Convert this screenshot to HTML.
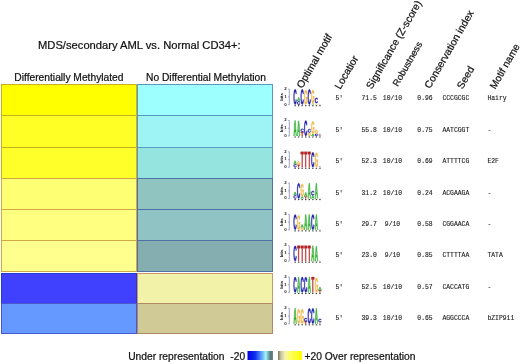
<!DOCTYPE html><html><head><meta charset="utf-8"><style>html,body{margin:0;padding:0;background:#fff;width:520px;height:364px;overflow:hidden}svg{display:block;will-change:transform}text{font-family:"Liberation Sans",sans-serif}.t{stroke:#111;stroke-width:0.22}.m{font-family:"Liberation Mono",monospace}</style></head><body>
<svg width="520" height="364" viewBox="0 0 520 364">
<defs>
<path id="gA" d="M78.7 100 69.7 74.4H30.6L21.5 100H0L37.4 0H62.7L100 100ZM50.1 15.4 49.6 17Q48.9 19.5 47.9 22.8Q46.9 26 35.4 58.7H64.8L54.7 30L51.6 20.3Z" vector-effect="non-scaling-stroke"/>
<path id="gC" d="M53.1 84Q73 84 80.8 65.5L100 72.2Q93.8 86.3 81.8 93.1Q69.8 100 53.1 100Q27.7 100 13.9 86.7Q0 73.4 0 49.6Q0 25.7 13.4 12.8Q26.7 0 52.1 0Q70.6 0 82.3 6.9Q94 13.7 98.7 27L79.2 31.9Q76.8 24.6 69.6 20.3Q62.4 16 52.6 16Q37.6 16 29.9 24.6Q22.2 33.1 22.2 49.6Q22.2 66.3 30.1 75.2Q38.1 84 53.1 84Z" vector-effect="non-scaling-stroke"/>
<path id="gG" d="M52.2 84.1Q60.6 84.1 68.4 81.8Q76.2 79.4 80.5 75.9V62.4H55.6V47.4H100V83.1Q91.9 91 78.9 95.5Q65.9 100 51.7 100Q26.8 100 13.4 86.9Q0 73.7 0 49.6Q0 25.6 13.5 12.8Q26.9 0 52.2 0Q88.1 0 97.8 25.3L78.1 31Q75 23.6 68.2 19.8Q61.4 16 52.2 16Q37.1 16 29.3 24.7Q21.5 33.4 21.5 49.6Q21.5 66.1 29.6 75.1Q37.6 84.1 52.2 84.1Z" vector-effect="non-scaling-stroke"/>
<path id="gT" d="M62.2 16.2V100H37.7V16.2H0V0H100V16.2Z" vector-effect="non-scaling-stroke"/>
</defs>
<rect width="520" height="364" fill="#fff"/>
<text x="38" y="49" font-size="11.2" fill="#111" class="t">MDS/secondary AML vs. Normal CD34+:</text>
<text x="14.3" y="81" font-size="10.25" fill="#111" class="t">Differentially Methylated</text>
<text x="146" y="81" font-size="10.25" fill="#111" class="t">No Differential Methylation</text>
<rect x="1.5" y="84.5" width="135" height="31" fill="#FFFF00" stroke="#C8B020" stroke-width="1"/>
<rect x="137.5" y="84.5" width="135" height="31" fill="#9EFFFF" stroke="#5A98C0" stroke-width="1"/>
<rect x="1.5" y="115.5" width="135" height="32" fill="#FFFF26" stroke="#C8B020" stroke-width="1"/>
<rect x="137.5" y="115.5" width="135" height="32" fill="#9EF4F4" stroke="#5A98C0" stroke-width="1"/>
<rect x="1.5" y="147.5" width="135" height="31" fill="#FFFF2A" stroke="#C8B020" stroke-width="1"/>
<rect x="137.5" y="147.5" width="135" height="31" fill="#96E4E0" stroke="#5A98C0" stroke-width="1"/>
<rect x="1.5" y="178.5" width="135" height="31" fill="#FFFF74" stroke="#D0A848" stroke-width="1"/>
<rect x="137.5" y="178.5" width="135" height="31" fill="#90C4C0" stroke="#5070A8" stroke-width="1"/>
<rect x="1.5" y="209.5" width="135" height="31" fill="#FFFF80" stroke="#D0A848" stroke-width="1"/>
<rect x="137.5" y="209.5" width="135" height="31" fill="#90C4C4" stroke="#5070A8" stroke-width="1"/>
<rect x="1.5" y="240.5" width="135" height="31" fill="#FFFF8E" stroke="#D0A848" stroke-width="1"/>
<rect x="137.5" y="240.5" width="135" height="31" fill="#85AEB0" stroke="#5070A8" stroke-width="1"/>
<rect x="1.5" y="273.5" width="135" height="30" fill="#4040FF" stroke="#2A3ACC" stroke-width="1"/>
<rect x="137.5" y="273.5" width="135" height="30" fill="#F2F3A8" stroke="#C89868" stroke-width="1"/>
<rect x="1.5" y="303.5" width="135" height="30" fill="#6699FF" stroke="#4858D0" stroke-width="1"/>
<rect x="137.5" y="303.5" width="135" height="30" fill="#CFCA96" stroke="#B08868" stroke-width="1"/>
<text transform="translate(302.2,89.0) rotate(-60)" font-size="10.3" fill="#111" class="t">Optimal motif</text>
<text transform="translate(340.3,90.0) rotate(-60)" font-size="10.3" fill="#111" class="t">Locatior</text>
<text transform="translate(371.8,89.7) rotate(-60)" font-size="10.3" fill="#111" class="t">Significance (Z-score)</text>
<text transform="translate(397.8,86.9) rotate(-60)" font-size="9.4" fill="#111" class="t">Robustness</text>
<text transform="translate(430.1,89.2) rotate(-60)" font-size="10.3" fill="#111" class="t">Conservation index</text>
<text transform="translate(462.5,89.7) rotate(-60)" font-size="10.3" fill="#111" class="t">Seed</text>
<text transform="translate(495.2,89.7) rotate(-60)" font-size="10.1" fill="#111" class="t">Motif name</text>
<text class="m" transform="translate(335.5,100.40)" font-size="6.4" fill="#1a1a1a" stroke="#1a1a1a" stroke-width="0.12">5′</text>
<text class="m" transform="translate(361.5,100.40)" font-size="6.4" fill="#1a1a1a" stroke="#1a1a1a" stroke-width="0.12">71.5</text>
<text class="m" transform="translate(382.8,100.40)" font-size="6.4" fill="#1a1a1a" stroke="#1a1a1a" stroke-width="0.12">10/10</text>
<text class="m" transform="translate(417.3,100.40)" font-size="6.4" fill="#1a1a1a" stroke="#1a1a1a" stroke-width="0.12">0.96</text>
<text class="m" transform="translate(442.4,100.40)" font-size="6.4" fill="#1a1a1a" stroke="#1a1a1a" stroke-width="0.12">CCCGCGC</text>
<text class="m" transform="translate(487.4,100.40)" font-size="6.4" fill="#1a1a1a" stroke="#1a1a1a" stroke-width="0.12">Hairy</text>
<text class="m" transform="translate(335.5,131.77)" font-size="6.4" fill="#1a1a1a" stroke="#1a1a1a" stroke-width="0.12">5′</text>
<text class="m" transform="translate(361.5,131.77)" font-size="6.4" fill="#1a1a1a" stroke="#1a1a1a" stroke-width="0.12">55.8</text>
<text class="m" transform="translate(382.8,131.77)" font-size="6.4" fill="#1a1a1a" stroke="#1a1a1a" stroke-width="0.12">10/10</text>
<text class="m" transform="translate(417.3,131.77)" font-size="6.4" fill="#1a1a1a" stroke="#1a1a1a" stroke-width="0.12">0.75</text>
<text class="m" transform="translate(442.4,131.77)" font-size="6.4" fill="#1a1a1a" stroke="#1a1a1a" stroke-width="0.12">AATCGGT</text>
<text class="m" transform="translate(487.4,131.77)" font-size="6.4" fill="#1a1a1a" stroke="#1a1a1a" stroke-width="0.12">-</text>
<text class="m" transform="translate(335.5,163.14)" font-size="6.4" fill="#1a1a1a" stroke="#1a1a1a" stroke-width="0.12">5′</text>
<text class="m" transform="translate(361.5,163.14)" font-size="6.4" fill="#1a1a1a" stroke="#1a1a1a" stroke-width="0.12">52.3</text>
<text class="m" transform="translate(382.8,163.14)" font-size="6.4" fill="#1a1a1a" stroke="#1a1a1a" stroke-width="0.12">10/10</text>
<text class="m" transform="translate(417.3,163.14)" font-size="6.4" fill="#1a1a1a" stroke="#1a1a1a" stroke-width="0.12">0.69</text>
<text class="m" transform="translate(442.4,163.14)" font-size="6.4" fill="#1a1a1a" stroke="#1a1a1a" stroke-width="0.12">ATTTTCG</text>
<text class="m" transform="translate(487.4,163.14)" font-size="6.4" fill="#1a1a1a" stroke="#1a1a1a" stroke-width="0.12">E2F</text>
<text class="m" transform="translate(335.5,194.51)" font-size="6.4" fill="#1a1a1a" stroke="#1a1a1a" stroke-width="0.12">5′</text>
<text class="m" transform="translate(361.5,194.51)" font-size="6.4" fill="#1a1a1a" stroke="#1a1a1a" stroke-width="0.12">31.2</text>
<text class="m" transform="translate(382.8,194.51)" font-size="6.4" fill="#1a1a1a" stroke="#1a1a1a" stroke-width="0.12">10/10</text>
<text class="m" transform="translate(417.3,194.51)" font-size="6.4" fill="#1a1a1a" stroke="#1a1a1a" stroke-width="0.12">0.24</text>
<text class="m" transform="translate(442.4,194.51)" font-size="6.4" fill="#1a1a1a" stroke="#1a1a1a" stroke-width="0.12">ACGAAGA</text>
<text class="m" transform="translate(487.4,194.51)" font-size="6.4" fill="#1a1a1a" stroke="#1a1a1a" stroke-width="0.12">-</text>
<text class="m" transform="translate(335.5,225.88)" font-size="6.4" fill="#1a1a1a" stroke="#1a1a1a" stroke-width="0.12">5′</text>
<text class="m" transform="translate(361.5,225.88)" font-size="6.4" fill="#1a1a1a" stroke="#1a1a1a" stroke-width="0.12">29.7</text>
<text class="m" transform="translate(384.8,225.88)" font-size="6.4" fill="#1a1a1a" stroke="#1a1a1a" stroke-width="0.12">9/10</text>
<text class="m" transform="translate(417.3,225.88)" font-size="6.4" fill="#1a1a1a" stroke="#1a1a1a" stroke-width="0.12">0.58</text>
<text class="m" transform="translate(442.4,225.88)" font-size="6.4" fill="#1a1a1a" stroke="#1a1a1a" stroke-width="0.12">CGGAACA</text>
<text class="m" transform="translate(487.4,225.88)" font-size="6.4" fill="#1a1a1a" stroke="#1a1a1a" stroke-width="0.12">-</text>
<text class="m" transform="translate(335.5,257.25)" font-size="6.4" fill="#1a1a1a" stroke="#1a1a1a" stroke-width="0.12">5′</text>
<text class="m" transform="translate(361.5,257.25)" font-size="6.4" fill="#1a1a1a" stroke="#1a1a1a" stroke-width="0.12">23.0</text>
<text class="m" transform="translate(384.8,257.25)" font-size="6.4" fill="#1a1a1a" stroke="#1a1a1a" stroke-width="0.12">9/10</text>
<text class="m" transform="translate(417.3,257.25)" font-size="6.4" fill="#1a1a1a" stroke="#1a1a1a" stroke-width="0.12">0.85</text>
<text class="m" transform="translate(442.4,257.25)" font-size="6.4" fill="#1a1a1a" stroke="#1a1a1a" stroke-width="0.12">CTTTTAA</text>
<text class="m" transform="translate(487.4,257.25)" font-size="6.4" fill="#1a1a1a" stroke="#1a1a1a" stroke-width="0.12">TATA</text>
<text class="m" transform="translate(335.5,288.62)" font-size="6.4" fill="#1a1a1a" stroke="#1a1a1a" stroke-width="0.12">5′</text>
<text class="m" transform="translate(361.5,288.62)" font-size="6.4" fill="#1a1a1a" stroke="#1a1a1a" stroke-width="0.12">52.5</text>
<text class="m" transform="translate(382.8,288.62)" font-size="6.4" fill="#1a1a1a" stroke="#1a1a1a" stroke-width="0.12">10/10</text>
<text class="m" transform="translate(417.3,288.62)" font-size="6.4" fill="#1a1a1a" stroke="#1a1a1a" stroke-width="0.12">0.57</text>
<text class="m" transform="translate(442.4,288.62)" font-size="6.4" fill="#1a1a1a" stroke="#1a1a1a" stroke-width="0.12">CACCATG</text>
<text class="m" transform="translate(487.4,288.62)" font-size="6.4" fill="#1a1a1a" stroke="#1a1a1a" stroke-width="0.12">-</text>
<text class="m" transform="translate(335.5,319.99)" font-size="6.4" fill="#1a1a1a" stroke="#1a1a1a" stroke-width="0.12">5′</text>
<text class="m" transform="translate(361.5,319.99)" font-size="6.4" fill="#1a1a1a" stroke="#1a1a1a" stroke-width="0.12">39.3</text>
<text class="m" transform="translate(382.8,319.99)" font-size="6.4" fill="#1a1a1a" stroke="#1a1a1a" stroke-width="0.12">10/10</text>
<text class="m" transform="translate(417.3,319.99)" font-size="6.4" fill="#1a1a1a" stroke="#1a1a1a" stroke-width="0.12">0.65</text>
<text class="m" transform="translate(442.4,319.99)" font-size="6.4" fill="#1a1a1a" stroke="#1a1a1a" stroke-width="0.12">AGGCCCA</text>
<text class="m" transform="translate(487.4,319.99)" font-size="6.4" fill="#1a1a1a" stroke="#1a1a1a" stroke-width="0.12">bZIP911</text>
<g stroke="#7878A8" stroke-width="0.7" fill="none"><path d="M289.3 89.15V104.75M288.2 89.15H289.3M288.2 96.95H289.3M288.2 104.75H289.3"/></g>
<g font-size="4.4" font-weight="bold" fill="#222" text-anchor="middle"><text x="285.4" y="89.95">2</text><text x="285.4" y="97.75">1</text><text x="285.4" y="105.55">0</text></g>
<text transform="translate(283.3,96.95) rotate(-90)" font-size="4.4" font-weight="bold" fill="#222" text-anchor="middle">bits</text>
<rect x="294.40" y="105.15" width="1.4" height="1.1" fill="#3a3a3a"/>
<rect x="297.95" y="105.15" width="1.4" height="1.1" fill="#3a3a3a"/>
<rect x="301.50" y="105.15" width="1.4" height="1.1" fill="#3a3a3a"/>
<rect x="305.05" y="105.15" width="1.4" height="1.1" fill="#3a3a3a"/>
<rect x="308.60" y="105.15" width="1.4" height="1.1" fill="#3a3a3a"/>
<rect x="312.15" y="105.15" width="1.4" height="1.1" fill="#3a3a3a"/>
<rect x="315.70" y="105.15" width="1.4" height="1.1" fill="#3a3a3a"/>
<rect x="319.25" y="105.15" width="1.4" height="1.1" fill="#3a3a3a"/>
<use href="#gC" fill="#2020A8" stroke="#2020A8" stroke-width="0.35" transform="translate(293.65,89.25) scale(0.0285,0.1540)"/>
<use href="#gC" fill="#2020A8" stroke="#2020A8" stroke-width="0.35" transform="translate(297.20,101.34) scale(0.0285,0.0331)"/>
<use href="#gA" fill="#38B038" stroke="#38B038" stroke-width="0.35" transform="translate(297.20,97.44) scale(0.0285,0.0370)"/>
<use href="#gC" fill="#2020A8" stroke="#2020A8" stroke-width="0.35" transform="translate(300.75,89.25) scale(0.0285,0.1540)"/>
<use href="#gG" fill="#EDB845" stroke="#EDB845" stroke-width="0.35" transform="translate(304.30,90.03) scale(0.0285,0.1462)"/>
<use href="#gC" fill="#2020A8" stroke="#2020A8" stroke-width="0.35" transform="translate(307.85,89.25) scale(0.0285,0.1540)"/>
<use href="#gA" fill="#38B038" stroke="#38B038" stroke-width="0" transform="translate(311.40,103.29) scale(0.0285,0.0136)"/>
<use href="#gG" fill="#EDB845" stroke="#EDB845" stroke-width="0.35" transform="translate(311.40,90.03) scale(0.0285,0.1306)"/>
<use href="#gG" fill="#EDB845" stroke="#EDB845" stroke-width="0" transform="translate(314.95,103.29) scale(0.0285,0.0136)"/>
<use href="#gC" fill="#2020A8" stroke="#2020A8" stroke-width="0.35" transform="translate(314.95,97.83) scale(0.0285,0.0526)"/>
<use href="#gT" fill="#B42626" stroke="#B42626" stroke-width="0" transform="translate(318.50,104.30) scale(0.0285,0.0035)"/>
<use href="#gC" fill="#2020A8" stroke="#2020A8" stroke-width="0" transform="translate(318.50,103.76) scale(0.0285,0.0035)"/>
<g stroke="#7878A8" stroke-width="0.7" fill="none"><path d="M289.3 120.45V136.05M288.2 120.45H289.3M288.2 128.25H289.3M288.2 136.05H289.3"/></g>
<g font-size="4.4" font-weight="bold" fill="#222" text-anchor="middle"><text x="285.4" y="121.25">2</text><text x="285.4" y="129.05">1</text><text x="285.4" y="136.85">0</text></g>
<text transform="translate(283.3,128.25) rotate(-90)" font-size="4.4" font-weight="bold" fill="#222" text-anchor="middle">bits</text>
<rect x="294.40" y="136.45" width="1.4" height="1.1" fill="#3a3a3a"/>
<rect x="297.95" y="136.45" width="1.4" height="1.1" fill="#3a3a3a"/>
<rect x="301.50" y="136.45" width="1.4" height="1.1" fill="#3a3a3a"/>
<rect x="305.05" y="136.45" width="1.4" height="1.1" fill="#3a3a3a"/>
<rect x="308.60" y="136.45" width="1.4" height="1.1" fill="#3a3a3a"/>
<rect x="312.15" y="136.45" width="1.4" height="1.1" fill="#3a3a3a"/>
<rect x="315.70" y="136.45" width="1.4" height="1.1" fill="#3a3a3a"/>
<rect x="319.25" y="136.45" width="1.4" height="1.1" fill="#3a3a3a"/>
<use href="#gA" fill="#38B038" stroke="#38B038" stroke-width="0.35" transform="translate(293.65,120.55) scale(0.0285,0.1540)"/>
<use href="#gA" fill="#38B038" stroke="#38B038" stroke-width="0.35" transform="translate(297.20,120.94) scale(0.0285,0.1501)"/>
<use href="#gT" fill="#B42626" stroke="#B42626" stroke-width="0.35" transform="translate(300.75,132.25) scale(0.0285,0.0370)"/>
<use href="#gC" fill="#2020A8" stroke="#2020A8" stroke-width="0.35" transform="translate(300.75,128.74) scale(0.0285,0.0331)"/>
<use href="#gC" fill="#2020A8" stroke="#2020A8" stroke-width="0.35" transform="translate(304.30,120.55) scale(0.0285,0.1540)"/>
<use href="#gG" fill="#EDB845" stroke="#EDB845" stroke-width="0.35" transform="translate(307.85,132.64) scale(0.0285,0.0331)"/>
<use href="#gC" fill="#2020A8" stroke="#2020A8" stroke-width="0.35" transform="translate(307.85,129.13) scale(0.0285,0.0331)"/>
<use href="#gA" fill="#38B038" stroke="#38B038" stroke-width="0.35" transform="translate(311.40,133.81) scale(0.0285,0.0214)"/>
<use href="#gG" fill="#EDB845" stroke="#EDB845" stroke-width="0.35" transform="translate(311.40,121.33) scale(0.0285,0.1228)"/>
<use href="#gC" fill="#2020A8" stroke="#2020A8" stroke-width="0.35" transform="translate(314.95,133.81) scale(0.0285,0.0214)"/>
<use href="#gG" fill="#EDB845" stroke="#EDB845" stroke-width="0.35" transform="translate(314.95,129.91) scale(0.0285,0.0370)"/>
<use href="#gT" fill="#B42626" stroke="#B42626" stroke-width="0" transform="translate(318.50,134.98) scale(0.0285,0.0097)"/>
<use href="#gC" fill="#2020A8" stroke="#2020A8" stroke-width="0" transform="translate(318.50,133.81) scale(0.0285,0.0097)"/>
<g stroke="#7878A8" stroke-width="0.7" fill="none"><path d="M289.3 151.75V167.35M288.2 151.75H289.3M288.2 159.55H289.3M288.2 167.35H289.3"/></g>
<g font-size="4.4" font-weight="bold" fill="#222" text-anchor="middle"><text x="285.4" y="152.55">2</text><text x="285.4" y="160.35">1</text><text x="285.4" y="168.15">0</text></g>
<text transform="translate(283.3,159.55) rotate(-90)" font-size="4.4" font-weight="bold" fill="#222" text-anchor="middle">bits</text>
<rect x="294.40" y="167.75" width="1.4" height="1.1" fill="#3a3a3a"/>
<rect x="297.95" y="167.75" width="1.4" height="1.1" fill="#3a3a3a"/>
<rect x="301.50" y="167.75" width="1.4" height="1.1" fill="#3a3a3a"/>
<rect x="305.05" y="167.75" width="1.4" height="1.1" fill="#3a3a3a"/>
<rect x="308.60" y="167.75" width="1.4" height="1.1" fill="#3a3a3a"/>
<rect x="312.15" y="167.75" width="1.4" height="1.1" fill="#3a3a3a"/>
<rect x="315.70" y="167.75" width="1.4" height="1.1" fill="#3a3a3a"/>
<rect x="319.25" y="167.75" width="1.4" height="1.1" fill="#3a3a3a"/>
<use href="#gC" fill="#2020A8" stroke="#2020A8" stroke-width="0.35" transform="translate(293.65,164.33) scale(0.0285,0.0292)"/>
<use href="#gA" fill="#38B038" stroke="#38B038" stroke-width="0.35" transform="translate(293.65,160.82) scale(0.0285,0.0331)"/>
<use href="#gT" fill="#B42626" stroke="#B42626" stroke-width="0.35" transform="translate(297.20,164.72) scale(0.0285,0.0253)"/>
<use href="#gG" fill="#EDB845" stroke="#EDB845" stroke-width="0.35" transform="translate(297.20,161.60) scale(0.0285,0.0292)"/>
<use href="#gT" fill="#B42626" stroke="#B42626" stroke-width="0.35" transform="translate(300.75,151.85) scale(0.0285,0.1540)"/>
<use href="#gT" fill="#B42626" stroke="#B42626" stroke-width="0.35" transform="translate(304.30,151.85) scale(0.0285,0.1540)"/>
<use href="#gT" fill="#B42626" stroke="#B42626" stroke-width="0.35" transform="translate(307.85,151.85) scale(0.0285,0.1540)"/>
<use href="#gC" fill="#2020A8" stroke="#2020A8" stroke-width="0.35" transform="translate(311.40,152.24) scale(0.0285,0.1501)"/>
<use href="#gG" fill="#EDB845" stroke="#EDB845" stroke-width="0.35" transform="translate(314.95,152.63) scale(0.0285,0.1462)"/>
<use href="#gT" fill="#B42626" stroke="#B42626" stroke-width="0" transform="translate(318.50,166.90) scale(0.0285,0.0035)"/>
<use href="#gC" fill="#2020A8" stroke="#2020A8" stroke-width="0" transform="translate(318.50,166.36) scale(0.0285,0.0035)"/>
<g stroke="#7878A8" stroke-width="0.7" fill="none"><path d="M289.3 183.05V198.65M288.2 183.05H289.3M288.2 190.85H289.3M288.2 198.65H289.3"/></g>
<g font-size="4.4" font-weight="bold" fill="#222" text-anchor="middle"><text x="285.4" y="183.85">2</text><text x="285.4" y="191.65">1</text><text x="285.4" y="199.45">0</text></g>
<text transform="translate(283.3,190.85) rotate(-90)" font-size="4.4" font-weight="bold" fill="#222" text-anchor="middle">bits</text>
<rect x="294.40" y="199.05" width="1.4" height="1.1" fill="#3a3a3a"/>
<rect x="297.95" y="199.05" width="1.4" height="1.1" fill="#3a3a3a"/>
<rect x="301.50" y="199.05" width="1.4" height="1.1" fill="#3a3a3a"/>
<rect x="305.05" y="199.05" width="1.4" height="1.1" fill="#3a3a3a"/>
<rect x="308.60" y="199.05" width="1.4" height="1.1" fill="#3a3a3a"/>
<rect x="312.15" y="199.05" width="1.4" height="1.1" fill="#3a3a3a"/>
<rect x="315.70" y="199.05" width="1.4" height="1.1" fill="#3a3a3a"/>
<rect x="319.25" y="199.05" width="1.4" height="1.1" fill="#3a3a3a"/>
<use href="#gC" fill="#2020A8" stroke="#2020A8" stroke-width="0.35" transform="translate(293.65,195.24) scale(0.0285,0.0331)"/>
<use href="#gA" fill="#38B038" stroke="#38B038" stroke-width="0.35" transform="translate(293.65,192.12) scale(0.0285,0.0292)"/>
<use href="#gC" fill="#2020A8" stroke="#2020A8" stroke-width="0.35" transform="translate(297.20,183.15) scale(0.0285,0.1540)"/>
<use href="#gA" fill="#38B038" stroke="#38B038" stroke-width="0.35" transform="translate(300.75,196.41) scale(0.0285,0.0214)"/>
<use href="#gG" fill="#EDB845" stroke="#EDB845" stroke-width="0.35" transform="translate(300.75,183.93) scale(0.0285,0.1228)"/>
<use href="#gT" fill="#B42626" stroke="#B42626" stroke-width="0.35" transform="translate(304.30,196.41) scale(0.0285,0.0214)"/>
<use href="#gA" fill="#38B038" stroke="#38B038" stroke-width="0.35" transform="translate(304.30,192.51) scale(0.0285,0.0370)"/>
<use href="#gA" fill="#38B038" stroke="#38B038" stroke-width="0.35" transform="translate(307.85,183.15) scale(0.0285,0.1540)"/>
<use href="#gA" fill="#38B038" stroke="#38B038" stroke-width="0.35" transform="translate(311.40,195.63) scale(0.0285,0.0292)"/>
<use href="#gC" fill="#2020A8" stroke="#2020A8" stroke-width="0.35" transform="translate(311.40,190.95) scale(0.0285,0.0448)"/>
<use href="#gA" fill="#38B038" stroke="#38B038" stroke-width="0.35" transform="translate(314.95,183.15) scale(0.0285,0.1540)"/>
<use href="#gT" fill="#B42626" stroke="#B42626" stroke-width="0" transform="translate(318.50,198.20) scale(0.0285,0.0035)"/>
<use href="#gG" fill="#EDB845" stroke="#EDB845" stroke-width="0" transform="translate(318.50,197.66) scale(0.0285,0.0035)"/>
<g stroke="#7878A8" stroke-width="0.7" fill="none"><path d="M289.3 214.35V229.95M288.2 214.35H289.3M288.2 222.15H289.3M288.2 229.95H289.3"/></g>
<g font-size="4.4" font-weight="bold" fill="#222" text-anchor="middle"><text x="285.4" y="215.15">2</text><text x="285.4" y="222.95">1</text><text x="285.4" y="230.75">0</text></g>
<text transform="translate(283.3,222.15) rotate(-90)" font-size="4.4" font-weight="bold" fill="#222" text-anchor="middle">bits</text>
<rect x="294.40" y="230.35" width="1.4" height="1.1" fill="#3a3a3a"/>
<rect x="297.95" y="230.35" width="1.4" height="1.1" fill="#3a3a3a"/>
<rect x="301.50" y="230.35" width="1.4" height="1.1" fill="#3a3a3a"/>
<rect x="305.05" y="230.35" width="1.4" height="1.1" fill="#3a3a3a"/>
<rect x="308.60" y="230.35" width="1.4" height="1.1" fill="#3a3a3a"/>
<rect x="312.15" y="230.35" width="1.4" height="1.1" fill="#3a3a3a"/>
<rect x="315.70" y="230.35" width="1.4" height="1.1" fill="#3a3a3a"/>
<rect x="319.25" y="230.35" width="1.4" height="1.1" fill="#3a3a3a"/>
<use href="#gC" fill="#2020A8" stroke="#2020A8" stroke-width="0.35" transform="translate(293.65,214.45) scale(0.0285,0.1540)"/>
<use href="#gG" fill="#EDB845" stroke="#EDB845" stroke-width="0.35" transform="translate(297.20,215.23) scale(0.0285,0.1462)"/>
<use href="#gG" fill="#EDB845" stroke="#EDB845" stroke-width="0.35" transform="translate(300.75,227.71) scale(0.0285,0.0214)"/>
<use href="#gA" fill="#38B038" stroke="#38B038" stroke-width="0.35" transform="translate(300.75,224.59) scale(0.0285,0.0292)"/>
<use href="#gA" fill="#38B038" stroke="#38B038" stroke-width="0.35" transform="translate(304.30,214.45) scale(0.0285,0.1540)"/>
<use href="#gA" fill="#38B038" stroke="#38B038" stroke-width="0.35" transform="translate(307.85,214.45) scale(0.0285,0.1540)"/>
<use href="#gC" fill="#2020A8" stroke="#2020A8" stroke-width="0.35" transform="translate(311.40,214.45) scale(0.0285,0.1540)"/>
<use href="#gA" fill="#38B038" stroke="#38B038" stroke-width="0.35" transform="translate(314.95,214.45) scale(0.0285,0.1540)"/>
<use href="#gT" fill="#B42626" stroke="#B42626" stroke-width="0" transform="translate(318.50,229.50) scale(0.0285,0.0035)"/>
<use href="#gC" fill="#2020A8" stroke="#2020A8" stroke-width="0" transform="translate(318.50,228.96) scale(0.0285,0.0035)"/>
<g stroke="#7878A8" stroke-width="0.7" fill="none"><path d="M289.3 245.65V261.25M288.2 245.65H289.3M288.2 253.45H289.3M288.2 261.25H289.3"/></g>
<g font-size="4.4" font-weight="bold" fill="#222" text-anchor="middle"><text x="285.4" y="246.45">2</text><text x="285.4" y="254.25">1</text><text x="285.4" y="262.05">0</text></g>
<text transform="translate(283.3,253.45) rotate(-90)" font-size="4.4" font-weight="bold" fill="#222" text-anchor="middle">bits</text>
<rect x="294.40" y="261.65" width="1.4" height="1.1" fill="#3a3a3a"/>
<rect x="297.95" y="261.65" width="1.4" height="1.1" fill="#3a3a3a"/>
<rect x="301.50" y="261.65" width="1.4" height="1.1" fill="#3a3a3a"/>
<rect x="305.05" y="261.65" width="1.4" height="1.1" fill="#3a3a3a"/>
<rect x="308.60" y="261.65" width="1.4" height="1.1" fill="#3a3a3a"/>
<rect x="312.15" y="261.65" width="1.4" height="1.1" fill="#3a3a3a"/>
<rect x="315.70" y="261.65" width="1.4" height="1.1" fill="#3a3a3a"/>
<rect x="319.25" y="261.65" width="1.4" height="1.1" fill="#3a3a3a"/>
<use href="#gC" fill="#2020A8" stroke="#2020A8" stroke-width="0.35" transform="translate(293.65,245.75) scale(0.0285,0.1540)"/>
<use href="#gT" fill="#B42626" stroke="#B42626" stroke-width="0.35" transform="translate(297.20,245.75) scale(0.0285,0.1540)"/>
<use href="#gT" fill="#B42626" stroke="#B42626" stroke-width="0.35" transform="translate(300.75,245.75) scale(0.0285,0.1540)"/>
<use href="#gT" fill="#B42626" stroke="#B42626" stroke-width="0.35" transform="translate(304.30,245.75) scale(0.0285,0.1540)"/>
<use href="#gT" fill="#B42626" stroke="#B42626" stroke-width="0.35" transform="translate(307.85,245.75) scale(0.0285,0.1540)"/>
<use href="#gA" fill="#38B038" stroke="#38B038" stroke-width="0.35" transform="translate(311.40,245.75) scale(0.0285,0.1540)"/>
<use href="#gA" fill="#38B038" stroke="#38B038" stroke-width="0.35" transform="translate(314.95,246.14) scale(0.0285,0.1501)"/>
<use href="#gT" fill="#B42626" stroke="#B42626" stroke-width="0" transform="translate(318.50,260.80) scale(0.0285,0.0035)"/>
<use href="#gC" fill="#2020A8" stroke="#2020A8" stroke-width="0" transform="translate(318.50,260.26) scale(0.0285,0.0035)"/>
<g stroke="#7878A8" stroke-width="0.7" fill="none"><path d="M289.3 276.95V292.55M288.2 276.95H289.3M288.2 284.75H289.3M288.2 292.55H289.3"/></g>
<g font-size="4.4" font-weight="bold" fill="#222" text-anchor="middle"><text x="285.4" y="277.75">2</text><text x="285.4" y="285.55">1</text><text x="285.4" y="293.35">0</text></g>
<text transform="translate(283.3,284.75) rotate(-90)" font-size="4.4" font-weight="bold" fill="#222" text-anchor="middle">bits</text>
<rect x="294.40" y="292.95" width="1.4" height="1.1" fill="#3a3a3a"/>
<rect x="297.95" y="292.95" width="1.4" height="1.1" fill="#3a3a3a"/>
<rect x="301.50" y="292.95" width="1.4" height="1.1" fill="#3a3a3a"/>
<rect x="305.05" y="292.95" width="1.4" height="1.1" fill="#3a3a3a"/>
<rect x="308.60" y="292.95" width="1.4" height="1.1" fill="#3a3a3a"/>
<rect x="312.15" y="292.95" width="1.4" height="1.1" fill="#3a3a3a"/>
<rect x="315.70" y="292.95" width="1.4" height="1.1" fill="#3a3a3a"/>
<rect x="319.25" y="292.95" width="1.4" height="1.1" fill="#3a3a3a"/>
<use href="#gC" fill="#2020A8" stroke="#2020A8" stroke-width="0.35" transform="translate(293.65,277.05) scale(0.0285,0.1540)"/>
<use href="#gA" fill="#38B038" stroke="#38B038" stroke-width="0.35" transform="translate(297.20,277.05) scale(0.0285,0.1540)"/>
<use href="#gC" fill="#2020A8" stroke="#2020A8" stroke-width="0.35" transform="translate(300.75,277.05) scale(0.0285,0.1540)"/>
<use href="#gC" fill="#2020A8" stroke="#2020A8" stroke-width="0.35" transform="translate(304.30,277.05) scale(0.0285,0.1540)"/>
<use href="#gA" fill="#38B038" stroke="#38B038" stroke-width="0.35" transform="translate(307.85,277.05) scale(0.0285,0.1540)"/>
<use href="#gT" fill="#B42626" stroke="#B42626" stroke-width="0.35" transform="translate(311.40,277.05) scale(0.0285,0.1540)"/>
<use href="#gG" fill="#EDB845" stroke="#EDB845" stroke-width="0.35" transform="translate(314.95,277.83) scale(0.0285,0.1462)"/>
<use href="#gT" fill="#B42626" stroke="#B42626" stroke-width="0.35" transform="translate(318.50,290.31) scale(0.0285,0.0214)"/>
<use href="#gA" fill="#38B038" stroke="#38B038" stroke-width="0.35" transform="translate(318.50,287.19) scale(0.0285,0.0292)"/>
<g stroke="#7878A8" stroke-width="0.7" fill="none"><path d="M289.3 308.25V323.85M288.2 308.25H289.3M288.2 316.05H289.3M288.2 323.85H289.3"/></g>
<g font-size="4.4" font-weight="bold" fill="#222" text-anchor="middle"><text x="285.4" y="309.05">2</text><text x="285.4" y="316.85">1</text><text x="285.4" y="324.65">0</text></g>
<text transform="translate(283.3,316.05) rotate(-90)" font-size="4.4" font-weight="bold" fill="#222" text-anchor="middle">bits</text>
<rect x="294.40" y="324.25" width="1.4" height="1.1" fill="#3a3a3a"/>
<rect x="297.95" y="324.25" width="1.4" height="1.1" fill="#3a3a3a"/>
<rect x="301.50" y="324.25" width="1.4" height="1.1" fill="#3a3a3a"/>
<rect x="305.05" y="324.25" width="1.4" height="1.1" fill="#3a3a3a"/>
<rect x="308.60" y="324.25" width="1.4" height="1.1" fill="#3a3a3a"/>
<rect x="312.15" y="324.25" width="1.4" height="1.1" fill="#3a3a3a"/>
<rect x="315.70" y="324.25" width="1.4" height="1.1" fill="#3a3a3a"/>
<rect x="319.25" y="324.25" width="1.4" height="1.1" fill="#3a3a3a"/>
<use href="#gA" fill="#38B038" stroke="#38B038" stroke-width="0.35" transform="translate(293.65,308.35) scale(0.0285,0.1540)"/>
<use href="#gG" fill="#EDB845" stroke="#EDB845" stroke-width="0.35" transform="translate(297.20,309.13) scale(0.0285,0.1462)"/>
<use href="#gG" fill="#EDB845" stroke="#EDB845" stroke-width="0.35" transform="translate(300.75,309.13) scale(0.0285,0.1462)"/>
<use href="#gT" fill="#B42626" stroke="#B42626" stroke-width="0.35" transform="translate(304.30,321.61) scale(0.0285,0.0214)"/>
<use href="#gC" fill="#2020A8" stroke="#2020A8" stroke-width="0.35" transform="translate(304.30,318.10) scale(0.0285,0.0331)"/>
<use href="#gC" fill="#2020A8" stroke="#2020A8" stroke-width="0.35" transform="translate(307.85,308.35) scale(0.0285,0.1540)"/>
<use href="#gC" fill="#2020A8" stroke="#2020A8" stroke-width="0.35" transform="translate(311.40,308.35) scale(0.0285,0.1540)"/>
<use href="#gA" fill="#38B038" stroke="#38B038" stroke-width="0.35" transform="translate(314.95,308.35) scale(0.0285,0.1540)"/>
<use href="#gT" fill="#B42626" stroke="#B42626" stroke-width="0" transform="translate(318.50,322.39) scale(0.0285,0.0136)"/>
<use href="#gC" fill="#2020A8" stroke="#2020A8" stroke-width="0.35" transform="translate(318.50,318.88) scale(0.0285,0.0331)"/>
<text x="128.2" y="360.4" font-size="10.25" fill="#111" class="t">Under representation</text>
<text x="230.3" y="360.4" font-size="10.25" fill="#111" class="t">-20</text>
<defs><linearGradient id="lb" x1="0" x2="1"><stop offset="0" stop-color="#0000E0"/><stop offset="0.3" stop-color="#1030F0"/><stop offset="0.55" stop-color="#60A0F8"/><stop offset="0.72" stop-color="#A0F8FF"/><stop offset="0.8" stop-color="#80B8C0"/><stop offset="0.9" stop-color="#5A7878"/><stop offset="1" stop-color="#6A8888"/></linearGradient>
<linearGradient id="ly" x1="0" x2="1"><stop offset="0" stop-color="#7A7460"/><stop offset="0.12" stop-color="#C8C4A0"/><stop offset="0.3" stop-color="#F8F4B0"/><stop offset="0.5" stop-color="#FFFF60"/><stop offset="1" stop-color="#FFFF00"/></linearGradient></defs>
<rect x="247.5" y="351" width="25.5" height="9" fill="url(#lb)"/>
<rect x="278" y="351" width="24" height="9" fill="url(#ly)"/>
<text x="304.6" y="360.4" font-size="10.25" fill="#111" class="t">+20 Over representation</text>
</svg></body></html>
